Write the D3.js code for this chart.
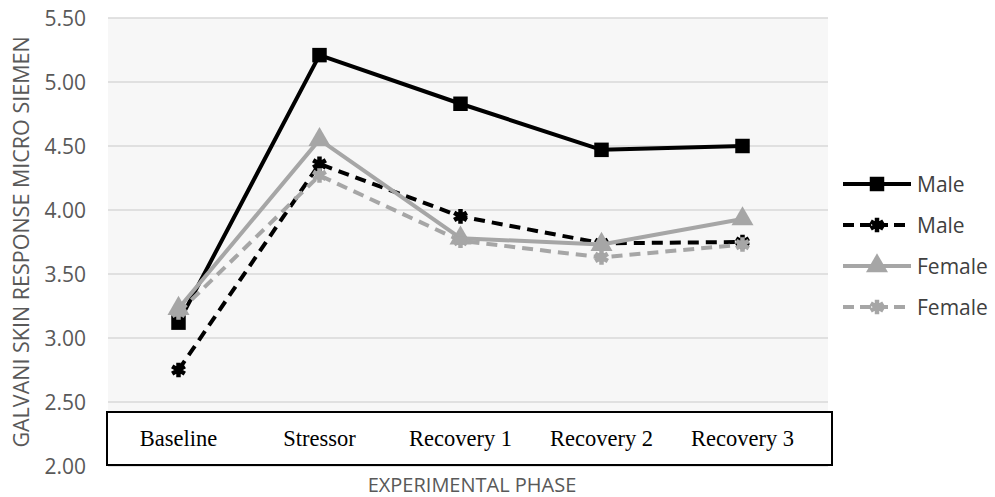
<!DOCTYPE html>
<html>
<head>
<meta charset="utf-8">
<script src="https://cdn.jsdelivr.net/npm/d3@7"></script>
<style>
  body { margin: 0; background: #fff; }
  svg { display: block; }
</style>
</head>
<body>
<div id="chart"></div>
<script>
(() => {
  const width = 995, height = 497;

  // data
  const phases = ["Baseline", "Stressor", "Recovery 1", "Recovery 2", "Recovery 3"];
  const maleSolid = [3.12, 5.21, 4.83, 4.47, 4.50];
  const maleDashed = [2.75, 4.36, 3.95, 3.74, 3.75];
  const femaleSolid = [3.23, 4.55, 3.78, 3.73, 3.93];
  const femaleDashed = [3.20, 4.27, 3.76, 3.63, 3.73];
  const yTicks = [2.0, 2.5, 3.0, 3.5, 4.0, 4.5, 5.0, 5.5];
  const seriesNames = ["Male", "Male", "Female", "Female"];

  const series = [
    { name: seriesNames[0], values: maleSolid, color: "#000", dash: null, marker: "square" },
    { name: seriesNames[1], values: maleDashed, color: "#000", dash: "11,7", marker: "star" },
    { name: seriesNames[2], values: femaleSolid, color: "#a6a6a6", dash: null, marker: "triangle" },
    { name: seriesNames[3], values: femaleDashed, color: "#a6a6a6", dash: "11,7", marker: "star" }
  ];

  const svg = d3.select("#chart").append("svg")
    .attr("width", width)
    .attr("height", height);

  const x = d3.scaleBand().domain(phases).range([108, 813]);
  const y = d3.scaleLinear().domain([2, 5.5]).range([466, 18]);
  const cx = d => x(d) + x.bandwidth() / 2;

  // plot area background
  svg.append("rect")
    .attr("x", 108).attr("y", y(5.5))
    .attr("width", 720).attr("height", y(2) - y(5.5))
    .attr("fill", "#f7f7f7");

  // gridlines
  svg.append("g")
    .selectAll("line")
    .data(yTicks)
    .join("line")
    .attr("x1", 108).attr("x2", 828)
    .attr("y1", d => y(d)).attr("y2", d => y(d))
    .attr("stroke", "#d9d9d9")
    .attr("stroke-width", 1.5);

  // y tick labels
  svg.append("g")
    .selectAll("text")
    .data(yTicks)
    .join("text")
    .attr("x", 86)
    .attr("y", d => y(d))
    .attr("dy", "0.36em")
    .attr("text-anchor", "end")
    .attr("font-family", "'Open Sans', sans-serif")
    .attr("font-size", 21)
    .attr("fill", "#595959")
    .text(d => d.toFixed(2));

  // y axis title
  svg.append("text")
    .attr("transform", "translate(29,242) rotate(-90)")
    .attr("text-anchor", "middle")
    .attr("font-family", "'Open Sans', sans-serif")
    .attr("font-size", 21.5)
    .attr("fill", "#595959")
    .text("GALVANI SKIN RESPONSE MICRO SIEMEN");

  const line = d3.line()
    .x((d, i) => cx(phases[i]))
    .y(d => y(d));

  function drawMarker(g, type, color, px, py) {
    if (type === "square") {
      g.append("path")
        .attr("d", d3.symbol(d3.symbolSquare, 210)())
        .attr("transform", `translate(${px},${py})`)
        .attr("fill", color);
    } else if (type === "triangle") {
      g.append("path")
        .attr("d", d3.symbol(d3.symbolTriangle, 210)())
        .attr("transform", `translate(${px},${py})`)
        .attr("fill", color);
    } else {
      g.append("path")
        .attr("d", d3.symbol(d3.symbolAsterisk, 150)())
        .attr("transform", `translate(${px},${py})`)
        .attr("fill", "none")
        .attr("stroke", color)
        .attr("stroke-width", 4.5);
      g.append("path")
        .attr("d", d3.symbol(d3.symbolSquare, 60)())
        .attr("transform", `translate(${px},${py})`)
        .attr("fill", color);
    }
  }

  series.forEach(s => {
    const g = svg.append("g");
    g.append("path")
      .datum(s.values)
      .attr("d", line)
      .attr("fill", "none")
      .attr("stroke", s.color)
      .attr("stroke-width", 4)
      .attr("stroke-dasharray", s.dash)
      .attr("stroke-linejoin", "round");
    s.values.forEach((v, i) => drawMarker(g, s.marker, s.color, cx(phases[i]), y(v)));
  });

  // category box
  svg.append("rect")
    .attr("x", 107).attr("y", 412)
    .attr("width", 725).attr("height", 53)
    .attr("fill", "#fff")
    .attr("stroke", "#000")
    .attr("stroke-width", 2);

  svg.append("g")
    .selectAll("text")
    .data(phases)
    .join("text")
    .attr("x", d => cx(d))
    .attr("y", 446)
    .attr("text-anchor", "middle")
    .attr("font-family", "'Liberation Serif', 'Times New Roman', serif")
    .attr("font-size", 22.5)
    .attr("fill", "#000")
    .text(d => d);

  // x axis title
  svg.append("text")
    .attr("x", 472)
    .attr("y", 492)
    .attr("text-anchor", "middle")
    .attr("font-family", "'Open Sans', sans-serif")
    .attr("font-size", 20)
    .attr("fill", "#595959")
    .text("EXPERIMENTAL PHASE");

  // legend
  const legend = svg.append("g");
  series.forEach((s, i) => {
    const ly = 184 + i * 41;
    const g = legend.append("g");
    g.append("line")
      .attr("x1", 843).attr("x2", 911)
      .attr("y1", ly).attr("y2", ly)
      .attr("stroke", s.color)
      .attr("stroke-width", 4)
      .attr("stroke-dasharray", s.dash ? "11,6" : null);
    drawMarker(g, s.marker, s.color, 877, ly);
    g.append("text")
      .attr("x", 917)
      .attr("y", ly)
      .attr("dy", "0.36em")
      .attr("font-family", "'Open Sans', sans-serif")
      .attr("font-size", 21)
      .attr("fill", "#404040")
      .text(s.name);
  });
})();
</script>
</body>
</html>
